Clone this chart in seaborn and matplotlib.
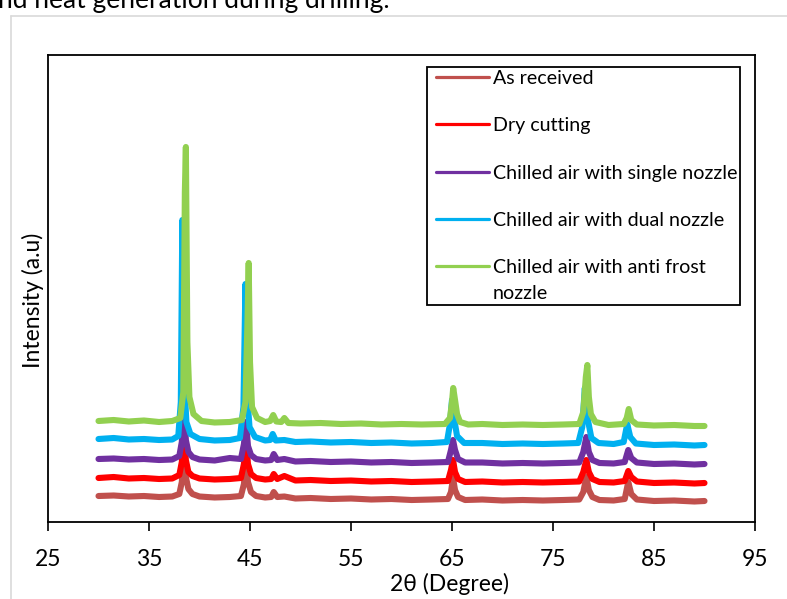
import numpy as np
import pandas as pd
import matplotlib
matplotlib.use("Agg")
import matplotlib.pyplot as plt
from matplotlib.lines import Line2D
from matplotlib.legend_handler import HandlerLine2D
import seaborn as sns

# ---------------- data ----------------
series_names = ["As received", "Dry cutting", "Chilled air with single nozzle",
                "Chilled air with dual nozzle", "Chilled air with anti frost\nnozzle"]
series_colors = ["#C0504D", "#FF0000", "#7030A0", "#00B0F0", "#92D050"]

x_low = [30, 31.5, 33, 34.5, 36, 37.3, 38.0, 38.25, 38.45, 38.65, 38.9, 39.3, 40, 41.5, 43, 44.1,
         44.4, 44.6, 44.8, 45.1, 45.6, 46.5, 47.1, 47.35, 47.7, 48.4, 49.5, 51, 53, 55, 57, 59, 61,
         63, 64.6, 64.9, 65.1, 65.3, 65.6, 66.3, 68, 70, 72, 74, 76, 77.6, 78.0, 78.3, 78.55, 78.9,
         79.6, 81, 82.1, 82.45, 82.75, 83.3, 85, 87, 89, 90]

y_as_received = [26, 26.5, 25.5, 26, 25, 25.5, 28, 40, 70, 45, 33, 28, 25.5, 24.5, 25, 26,
                 38, 62, 40, 30, 26, 24.5, 25, 30, 25, 25.5, 23.5, 24, 23, 23.5, 22.5, 23, 22,
                 22.5, 23, 30, 44, 32, 25, 22, 22.5, 21.5, 22, 21.5, 22, 22.5, 30, 45, 32, 25,
                 22, 21.5, 23, 40, 28, 22.5, 21, 21.5, 20.5, 21]

y_dry = [44, 45, 43.5, 44, 43, 43.5, 47, 60, 90, 62, 50, 46, 43.5, 42.5, 43, 44,
         58, 82, 58, 48, 44, 42.5, 43, 48, 43, 46, 41.5, 42, 41, 41.5, 40.5, 41, 40,
         40.5, 41, 52, 62, 50, 43, 40, 40.5, 39.5, 40, 39.5, 40, 40.5, 50, 62, 50, 43,
         40, 39.5, 41, 51, 45, 40.5, 39, 39.5, 38.5, 39]

y_single = [63, 63.5, 62.5, 63, 62, 62.5, 66, 80, 115, 82, 70, 65, 62.5, 61.5, 64, 63,
            78, 100, 76, 67, 63, 61.5, 62, 68, 62, 63, 60.5, 61, 60, 60.5, 59.5, 60, 59,
            59.5, 60, 72, 82, 72, 63, 59.5, 59.5, 58.5, 59, 58.5, 59, 59.5, 70, 85, 70, 62,
            59, 58.5, 60, 72, 64, 59.5, 58, 58.5, 57.5, 58]

x_dual = [30, 31.5, 33, 34.5, 36, 37.3, 37.9, 38.15, 38.3, 38.45, 38.7, 39.1, 40, 41.5, 43, 44.0,
          44.35, 44.55, 44.7, 44.95, 45.5, 46.5, 47.0, 47.25, 47.55, 48.4, 49.5, 51, 53, 55, 57,
          59, 61, 63, 64.5, 64.8, 65.0, 65.2, 65.5, 66.2, 68, 70, 72, 74, 76, 77.5, 77.9, 78.15,
          78.4, 78.8, 79.5, 81, 82.0, 82.35, 82.65, 83.2, 85, 87, 89, 90]
y_dual = [83, 84, 82.5, 83, 82, 82.5, 86, 120, 302, 150, 100, 88, 83, 81.5, 82, 84,
          115, 238, 130, 95, 85, 81.5, 82, 88, 81.5, 82, 80, 80.5, 79.5, 80, 79,
          79.5, 78.5, 79, 80, 98, 122, 104, 86, 79, 79, 78, 78.5, 78, 78.5, 79, 95, 134,
          105, 84, 79, 78, 80, 98, 85, 78.5, 77, 77.5, 76.5, 77]

x_frost = [30, 31.5, 33, 34.5, 36, 37.3, 38.1, 38.4, 38.55, 38.65, 38.8, 39.0, 39.4, 40.2, 41.5,
           43, 44.2, 44.55, 44.75, 44.87, 45.0, 45.2, 45.7, 46.5, 47.0, 47.3, 47.6, 48.1, 48.4,
           48.8, 50, 52, 54, 56, 58, 60, 62, 64.3, 64.8, 65.0, 65.12, 65.3, 65.5, 65.8, 66.6, 68,
           70, 72, 74, 76, 77.6, 78.0, 78.25, 78.4, 78.55, 78.75, 79.2, 80.5, 82.0, 82.3, 82.5,
           82.75, 83.3, 85, 87, 89, 90]
y_frost = [101, 102, 100.5, 101.5, 100, 101, 104, 130, 330, 375, 180, 125, 108, 101, 99.5,
           100, 102, 120, 200, 259, 160, 115, 104, 100, 101, 107, 100.5, 100, 104,
           99, 98.5, 99, 98, 98.5, 97.5, 98, 97.5, 98, 104, 120, 134, 122, 108, 100, 97.5, 98,
           97, 97.5, 97, 97.5, 98, 110, 145, 157, 125, 108, 100, 97, 98, 104, 113,
           102, 97.5, 96.5, 97, 96, 96]

x_ticks = [25, 35, 45, 55, 65, 75, 85, 95]

series_x = [x_low, x_low, x_low, x_dual, x_frost]
series_y = [y_as_received, y_dry, y_single, y_dual, y_frost]

frames = []
for name, xs, ys in zip(series_names, series_x, series_y):
    assert len(xs) == len(ys), name
    frames.append(pd.DataFrame({"two_theta": xs, "intensity": ys, "sample": name}))
df = pd.concat(frames, ignore_index=True)

# ---------------- style ----------------
sns.set_theme(style="white")
plt.rcParams["font.family"] = ["Lato", "DejaVu Sans"]
plt.rcParams["text.color"] = "black"
plt.rcParams["axes.labelcolor"] = "black"
plt.rcParams["xtick.color"] = "black"

fig = plt.figure(figsize=(7.87, 5.99), dpi=100)
ax = fig.add_axes([48 / 787, 1 - 522 / 599, (755 - 48) / 787, (522 - 55) / 599])

palette = dict(zip(series_names, series_colors))
sns.lineplot(data=df, x="two_theta", y="intensity", hue="sample", hue_order=series_names,
             palette=palette, estimator=None, sort=True, linewidth=4.4, legend=False, ax=ax,
             solid_joinstyle="round", solid_capstyle="round")

ax.set_xlim(25, 95)
ax.set_ylim(0, 467)
ax.set_xticks(x_ticks)
ax.set_xticklabels([str(t) for t in x_ticks])
ax.set_yticks([])
ax.tick_params(axis="x", direction="out", length=6.5, width=1.2, pad=13, labelsize=16.5,
               bottom=True, colors="black")
for sp in ax.spines.values():
    sp.set_visible(True)
    sp.set_color("black")
    sp.set_linewidth(1.3)

ax.set_xlabel("2θ (Degree)", fontsize=16.5)
ax.set_ylabel("Intensity (a.u)", fontsize=16.5)
ax.xaxis.set_label_coords((449 - 48) / 707, (522 - 584) / 467)
ax.xaxis.label.set_va("center")
ax.yaxis.set_label_coords((33 - 48) / 707, (522 - 300) / 467)
ax.yaxis.label.set_va("center")

handles = [Line2D([0], [0], color=c, lw=2.3) for c in series_colors]
leg = ax.legend(handles, series_names, loc="upper left",
                bbox_to_anchor=(427 / 787, 1 - 67 / 599), bbox_transform=fig.transFigure,
                borderaxespad=0, fontsize=14.1, frameon=True, fancybox=False,
                edgecolor="black", framealpha=1, borderpad=0.15, labelspacing=1.55,
                handlelength=3.0, handletextpad=0.2,
                handler_map={Line2D: HandlerLine2D(xpad=0.3)})
leg.get_frame().set_linewidth(1.3)
for t in leg.get_texts():
    t.set_linespacing(1.6)
# align each legend handle with the first line of its label
for col in leg._legend_handle_box.get_children():
    for item in col.get_children():
        item.align = "top"

# document context around the chart (screenshot)
fig.add_artist(Line2D([11 / 787, 11 / 787], [0, 1 - 16 / 599], transform=fig.transFigure,
                      color="#D9D9D9", lw=1.2))
fig.add_artist(Line2D([11 / 787, 1], [1 - 16 / 599, 1 - 16 / 599], transform=fig.transFigure,
                      color="#D9D9D9", lw=1.2))
fig.text(-2 / 787, 1 - 8 / 599, "nd heat generation during drilling.", fontsize=19,
         va="baseline", ha="left")

fig.savefig("out.png", dpi=100)
